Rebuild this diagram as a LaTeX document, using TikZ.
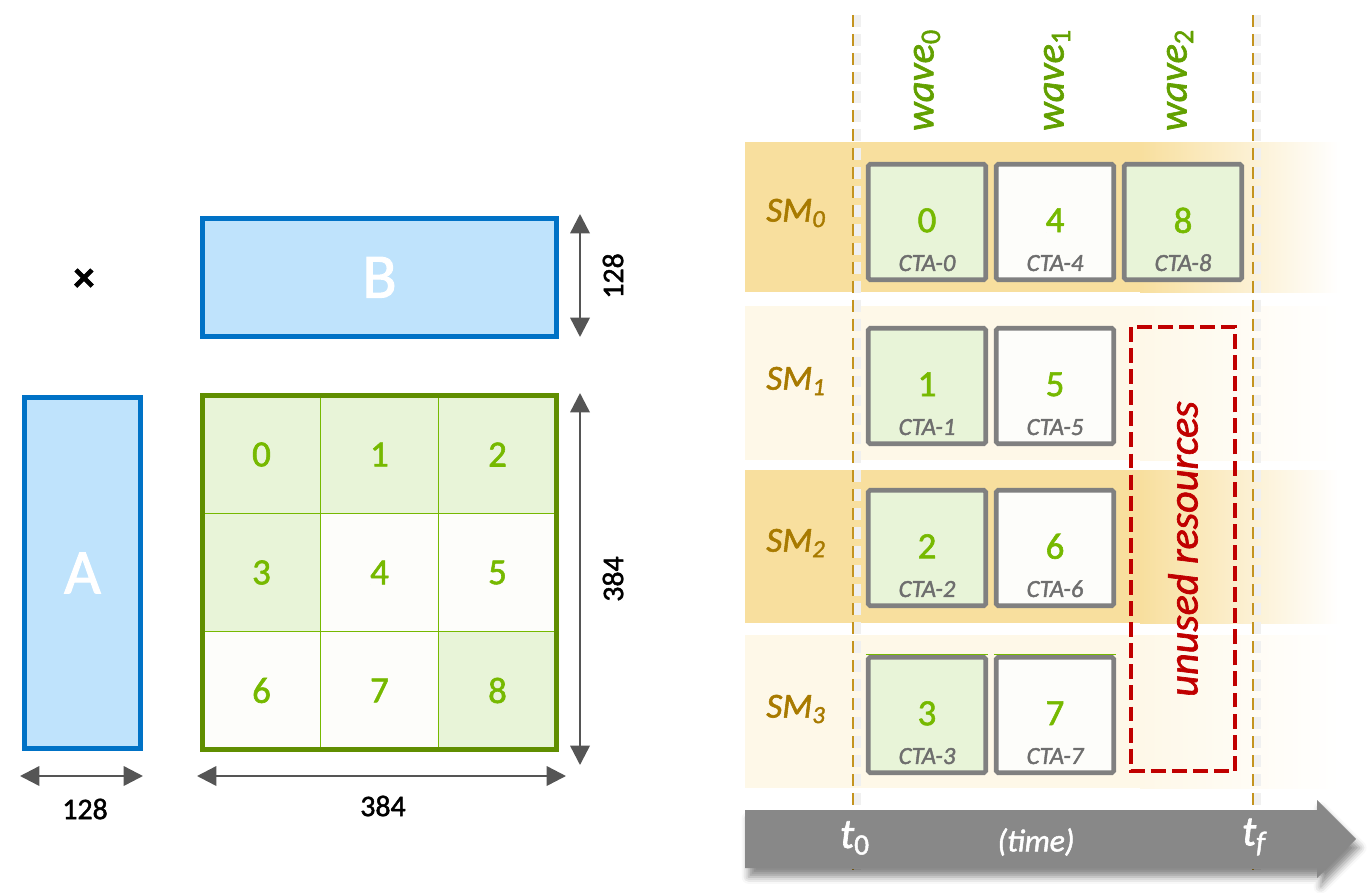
\documentclass[tikz,border=0pt]{standalone}
\usepackage{fontspec}
\setmainfont{Carlito}[FakeBold=1.6]
\usetikzlibrary{arrows.meta,positioning,shadows.blur}
\definecolor{mblue}{RGB}{0,114,198}
\definecolor{lblue}{RGB}{191,227,252}
\definecolor{gdark}{RGB}{96,142,0}
\definecolor{gline}{RGB}{118,185,0}
\definecolor{lgreen}{RGB}{232,244,216}
\definecolor{wcell}{RGB}{253,253,250}
\definecolor{numg}{RGB}{118,185,0}
\definecolor{dgray}{RGB}{85,85,85}
\definecolor{bgray}{RGB}{128,128,128}
\definecolor{cgray}{RGB}{110,110,110}
\definecolor{smb}{RGB}{168,122,0}
\definecolor{dgold}{RGB}{196,148,32}
\definecolor{wgreen}{RGB}{98,160,0}
\definecolor{ured}{RGB}{192,0,0}
\definecolor{bandA}{RGB}{248,223,158}
\definecolor{bandB}{RGB}{254,248,232}
\definecolor{tgray}{RGB}{136,136,136}

\begin{document}
\begin{tikzpicture}[x=0.02cm,y=-0.02cm,
mat/.style={draw=mblue,line width=2.8pt,fill=lblue,inner sep=0pt,text=white,font=\fontsize{36}{36}\selectfont},
cell/.style={draw=gline,line width=0.85pt,minimum size=2.36cm,inner sep=0pt,outer sep=0pt,text=numg,font=\fontsize{21}{21}\selectfont},
dim/.style={{Triangle[length=11pt,width=11pt]}-{Triangle[length=11pt,width=11pt]},draw=dgray,line width=1.4pt},
dlbl/.style={font=\fontsize{17}{17}\selectfont},
cta/.style={draw=bgray,line width=2.6pt,rounded corners=1pt,minimum width=2.35cm,minimum height=2.31cm,inner sep=0pt,text=numg,font=\fontsize{21}{21}\selectfont},
ctal/.style={inner sep=1pt,text=cgray,font=\itshape\fontsize{14}{14}\selectfont},
sm/.style={text=smb,font=\itshape\fontsize{20}{20}\selectfont},
wave/.style={rotate=90,text=wgreen,font=\itshape\fontsize{23}{23}\selectfont},
gold/.style={draw=dgold,line width=1.5pt,dash pattern=on 6.8pt off 4pt},
goldshadow/.style={draw=gray!12,line width=4pt,dash pattern=on 6.8pt off 4pt},
tl/.style={text=white,font=\itshape\fontsize{24}{24}\selectfont}]
\useasboundingbox (0,0) rectangle (1368,892);

% A x B = C
\node[mat,minimum width=2.32cm,minimum height=7.02cm] (A) at (82.5,573) {A};
\node[mat,minimum width=7.08cm,minimum height=2.35cm] (B) at (379.5,277.3) {B};
\node[font=\bfseries\fontsize{24}{24}\selectfont] (x) at (84,280) {×};

\node[cell,fill=lgreen] (g0) at (261.5,454.5) {0};
\node[cell,fill=lgreen] (g1) at (379.5,454.5) {1};
\node[cell,fill=lgreen] (g2) at (497.5,454.5) {2};
\node[cell,fill=lgreen] (g3) at (261.5,572.5) {3};
\node[cell,fill=wcell] (g4) at (379.5,572.5) {4};
\node[cell,fill=wcell] (g5) at (497.5,572.5) {5};
\node[cell,fill=wcell] (g6) at (261.5,690.5) {6};
\node[cell,fill=wcell] (g7) at (379.5,690.5) {7};
\node[cell,fill=lgreen] (g8) at (497.5,690.5) {8};
\draw[gdark,line width=2.85pt] (g0.north west) rectangle (g8.south east);

\coordinate (a1) at (20,776);
\coordinate (a2) at (143,776);
\coordinate (c1) at (197,776);
\coordinate (c2) at (566,776);
\coordinate (b1) at (580,214);
\coordinate (b2) at (580,337);
\coordinate (r1) at (580,393);
\coordinate (r2) at (580,765);
\draw[dim] (a1) -- (a2);
\draw[dim] (c1) -- (c2);
\draw[dim] (b1) -- (b2);
\draw[dim] (r1) -- (r2);
\node[dlbl] (na) at (85,809) {128};
\node[dlbl] (nc) at (383,806) {384};
\node[dlbl,rotate=90] (nb) at (613,276) {128};
\node[dlbl,rotate=90] (nr) at (613,579) {384};

% SM rows
\fill[bandA] (745,142) rectangle (1140,292);
\shade[left color=bandA,right color=white] (1140,142) rectangle (1340,292);
\fill[bandB] (745,306) rectangle (1140,460);
\shade[left color=bandB,right color=white] (1140,306) rectangle (1340,460);
\fill[bandA] (745,470) rectangle (1140,623);
\shade[left color=bandA,right color=white] (1140,470) rectangle (1340,623);
\fill[bandB] (745,635) rectangle (1140,788);
\shade[left color=bandB,right color=white] (1140,635) rectangle (1340,788);

\coordinate (u0) at (853,15);
\coordinate (d0) at (853,870);
\coordinate (u1) at (1253,15);
\coordinate (d1) at (1253,870);
\draw[goldshadow] ([xshift=2.5pt]u0) -- ([xshift=2.5pt]d0);
\draw[goldshadow] ([xshift=2.5pt]u1) -- ([xshift=2.5pt]d1);
\draw[gold] (u0) -- (d0);
\draw[gold] (u1) -- (d1);

\node[wave] (w0) at (927,80) {wave\textsubscript{\upshape 0}};
\node[wave] (w1) at (1057,80) {wave\textsubscript{\upshape 1}};
\node[wave] (w2) at (1180,80) {wave\textsubscript{\upshape 2}};

\node[sm] (s0) at (796,213) {SM\textsubscript{0}};
\node[sm] (s1) at (796,381) {SM\textsubscript{1}};
\node[sm] (s2) at (796,543) {SM\textsubscript{2}};
\node[sm] (s3) at (796,709) {SM\textsubscript{3}};

\node[cta,fill=lgreen] (k0) at (927,222) {\raisebox{2pt}{0}};
\node[cta,fill=wcell] (k4) at (1055,222) {\raisebox{2pt}{4}};
\node[cta,fill=lgreen] (k8) at (1183,222) {\raisebox{2pt}{8}};
\node[cta,fill=lgreen] (k1) at (927,386) {\raisebox{2pt}{1}};
\node[cta,fill=wcell] (k5) at (1055,386) {\raisebox{2pt}{5}};
\node[cta,fill=lgreen] (k2) at (927,548) {\raisebox{2pt}{2}};
\node[cta,fill=wcell] (k6) at (1055,548) {\raisebox{2pt}{6}};
\node[cta,fill=lgreen] (k3) at (927,715) {\raisebox{2pt}{3}};
\node[cta,fill=wcell] (k7) at (1055,715) {\raisebox{2pt}{7}};
\draw[numg,line width=0.9pt] ([yshift=0.3pt]k3.north west) -- ([yshift=0.3pt]k3.north east);
\draw[numg,line width=0.9pt] ([yshift=0.3pt]k7.north west) -- ([yshift=0.3pt]k7.north east);
\node[ctal,above=5pt of k0.south] (l0) {CTA-0};
\node[ctal,above=5pt of k4.south] (l4) {CTA-4};
\node[ctal,above=5pt of k8.south] (l8) {CTA-8};
\node[ctal,above=5pt of k1.south] (l1) {CTA-1};
\node[ctal,above=5pt of k5.south] (l5) {CTA-5};
\node[ctal,above=5pt of k2.south] (l2) {CTA-2};
\node[ctal,above=5pt of k6.south] (l6) {CTA-6};
\node[ctal,above=5pt of k3.south] (l3) {CTA-3};
\node[ctal,above=5pt of k7.south] (l7) {CTA-7};

\node[draw=ured,line width=2.5pt,dash pattern=on 8.5pt off 3.5pt,rotate=90,minimum width=8.88cm,minimum height=2.08cm,text=ured,font=\itshape\fontsize{24}{24}\selectfont] (un) at (1183,549) {unused resources};

% time axis
\fill[tgray,blur shadow={shadow xshift=2pt,shadow yshift=-5pt,shadow blur radius=4pt,shadow opacity=45}] (745,810) -- (1317,810) -- (1317,800) -- (1356,839) -- (1317,878) -- (1317,868) -- (745,868) -- cycle;
\node[tl] (t0) at (855,838) {t\textsubscript{\upshape 0}};
\node[tl,font=\itshape\fontsize{18}{18}\selectfont] (tm) at (1036,842) {(time)};
\node[tl] (tf) at (1254,837) {t\textsubscript{f}};
\end{tikzpicture}
\end{document}
